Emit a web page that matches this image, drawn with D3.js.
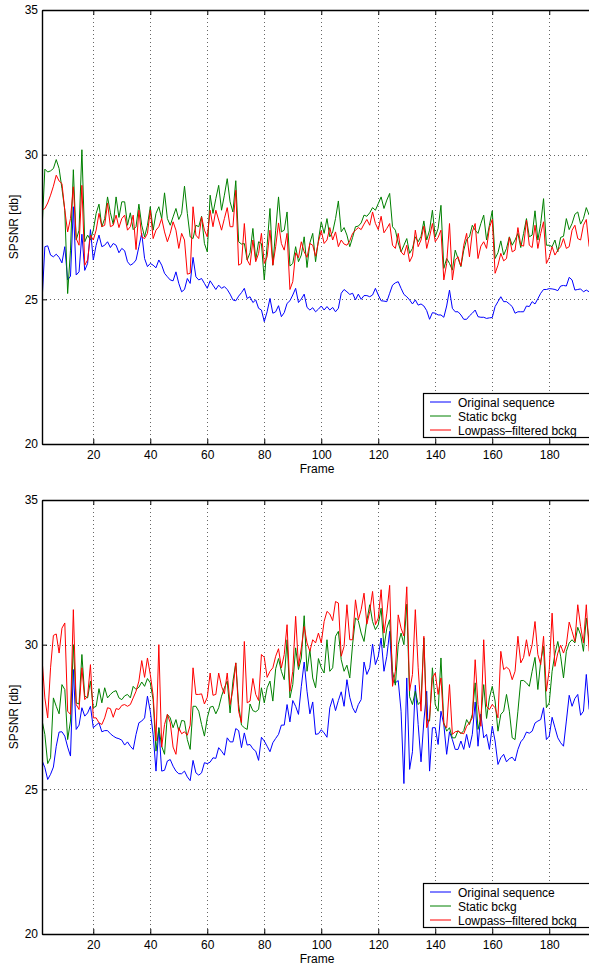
<!DOCTYPE html>
<html>
<head>
<meta charset="utf-8">
<script src="https://cdn.jsdelivr.net/npm/d3@7"></script>
<style>
  body { margin: 0; background: #fff; }
  text { font-family: "Liberation Sans", Arial, sans-serif; fill: #000; }
</style>
</head>
<body>
<div id="vis"></div>
<script>
// frames 2..194
const frames = d3.range(2, 195);
const seriesNames = ["Original sequence", "Static bckg", "Lowpass\u2013filtered bckg"];
const seriesColors = ["#0000ff", "#008000", "#ff0000"];
const xTicks = [20, 40, 60, 80, 100, 120, 140, 160, 180];
const yTicks = [20, 25, 30, 35];

// upper plot
const topOriginal = [
  24.9, 26.82, 26.85, 26.53, 26.47, 26.56, 26.45, 26.26, 26.82, 25.67,
  25.8, 28.2, 25.84, 25.95, 27.25, 26.0, 26.24, 27.41, 26.36, 26.87,
  27.22, 26.82, 26.87, 26.99, 26.79, 26.93, 26.87, 26.61, 26.76, 26.68,
  26.3, 26.18, 26.24, 26.36, 26.82, 27.28, 26.41, 26.13, 26.24, 26.18,
  26.09, 26.36, 26.18, 25.9, 25.78, 25.67, 25.64, 25.95, 25.55, 25.26,
  25.34, 25.72, 25.55, 26.45, 25.78, 25.67, 25.72, 25.55, 25.38, 25.64,
  25.49, 25.34, 25.49, 25.38, 25.44, 25.34, 25.18,
  24.98, 24.95, 25.11, 25.23, 25.38, 25.03, 25.09, 24.89, 24.98, 24.69,
  24.63, 24.23, 24.57, 25.03, 24.52, 24.57, 24.78, 24.4, 24.54, 24.86,
  24.95, 25.15, 25.38, 24.89, 25.01, 25.18, 24.72, 24.63, 24.71, 24.57,
  24.66, 24.77, 24.63, 24.75, 24.63, 24.72, 24.57, 24.69, 25.21, 25.34,
  25.26, 25.17, 25.21, 24.98, 25.18, 25.0, 25.13, 25.13, 25.09, 25.15,
  25.38, 25.15, 24.95, 24.94, 24.92, 25.21, 25.49, 25.57, 25.61, 25.38,
  25.17, 25.09, 24.98,
  24.84, 24.98, 24.8, 24.84, 24.77, 24.61, 24.31, 24.54, 24.52, 24.46,
  24.46, 24.38, 24.77, 25.32, 24.69, 24.57, 24.57, 24.46, 24.31, 24.31,
  24.43, 24.52, 24.63, 24.4, 24.38, 24.38, 24.34, 24.36, 24.37, 24.75,
  24.92, 25.09, 24.92, 24.92, 24.84, 24.75, 24.52, 24.57, 24.57, 24.57,
  24.77, 24.75, 24.92, 24.84, 25.02, 25.21, 25.34, 25.34, 25.37, 25.36,
  25.34, 25.3, 25.46, 25.48, 25.46, 25.76, 25.67, 25.32, 25.34, 25.36,
  25.26, 25.32, 25.26
];
const topStatic = [
  27.4, 29.5, 29.4, 29.44, 29.52, 29.83, 29.52, 28.83, 28.08, 25.2,
  26.7, 29.48, 27.05, 27.39, 30.17, 26.99, 27.22, 27.05, 27.39, 27.97,
  28.29, 27.51, 27.79, 28.54, 27.99, 27.59, 28.54, 27.83, 28.37, 28.37,
  27.56, 27.99, 27.41, 27.51, 28.29, 27.56, 27.16, 27.56, 28.2, 27.39,
  27.97, 28.2, 27.79, 28.68, 27.79, 27.56, 27.85, 28.14, 27.76, 27.97,
  28.91, 27.97, 27.16, 27.1, 27.56, 27.51, 27.87, 26.93, 26.64, 28.6,
  27.97, 28.48, 28.94, 28.08, 28.6, 29.17, 28.37,
  28.02, 29.1, 26.99, 26.91, 26.93, 26.36, 26.61, 27.45, 26.36, 26.99,
  26.93, 25.67, 26.87, 28.14, 26.18, 27.39, 28.54, 27.33, 27.39, 28.02,
  26.15, 26.24, 26.82, 26.3, 26.53, 27.16, 26.1, 26.95, 27.28, 26.3,
  27.05, 27.68, 27.28, 27.79, 27.16, 27.33, 27.79, 28.4, 27.33, 27.48,
  27.22, 26.82, 27.14, 27.51, 27.53, 27.64, 27.91, 27.87, 27.99, 28.17,
  28.08, 28.31, 28.54, 28.14, 28.43, 28.66, 27.51, 27.39, 26.95, 26.64,
  26.87, 27.1, 26.59,
  26.76, 27.16, 26.99, 27.18, 27.71, 27.05, 27.39, 28.08, 27.16, 27.45,
  28.25, 26.07, 26.41, 26.24, 26.01, 26.7, 26.41, 26.13, 26.7, 27.07,
  27.16, 27.56, 27.39, 27.28, 27.62, 27.91, 27.05, 27.56, 28.06, 26.41,
  26.61, 27.02, 26.53, 26.76, 27.16, 26.87, 27.05, 27.28, 26.79, 27.28,
  27.79, 27.16, 27.22, 28.06, 27.05, 27.62, 28.48, 26.87, 26.87, 26.82,
  27.05, 26.64, 27.14, 27.18, 27.79, 27.41, 27.62, 27.94, 28.02, 27.6,
  27.79, 28.17, 27.91
];
const topLowpass = [
  28.08, 28.14, 28.33, 28.6, 28.91, 29.29, 29.09, 29.0, 28.08, 27.33,
  27.79, 28.89, 27.1, 26.87, 28.94, 26.18, 26.36, 27.22, 27.05, 27.39,
  27.97, 27.51, 27.56, 28.33, 27.51, 27.56, 27.91, 27.48, 27.79, 27.91,
  27.39, 27.51, 27.91, 26.72, 28.08, 27.16, 27.1, 27.28, 28.08, 27.1,
  27.39, 27.51, 27.79, 27.33, 26.99, 27.28, 27.68, 27.39, 26.76, 27.28,
  27.05, 25.87, 25.9, 28.2, 27.22, 27.1, 27.85, 27.39, 27.16, 28.08,
  27.51, 28.08, 27.74, 27.39, 27.79, 28.17, 27.51,
  27.51, 28.77, 26.18, 26.24, 27.62, 26.36, 26.18, 27.05, 26.3, 26.59,
  27.28, 26.24, 26.47, 27.39, 26.18, 26.82, 27.64, 26.93, 26.7, 27.28,
  25.34, 25.61, 26.61, 26.44, 26.99, 26.64, 26.45, 26.93, 26.87, 26.49,
  26.99, 27.37, 26.93, 27.05, 27.48, 27.05, 27.33, 26.82, 27.05, 26.91,
  26.87, 27.02, 27.28, 27.39, 27.48, 27.41, 27.6, 27.76, 27.56, 28.02,
  27.62, 27.41, 27.87, 27.3, 27.45, 27.62, 26.87, 26.76, 27.28, 26.64,
  26.53, 26.87, 26.3,
  26.5, 27.39, 26.82, 27.05, 27.53, 26.76, 27.16, 27.62, 26.99, 27.14,
  27.39, 25.67, 26.24, 27.62, 25.67, 26.36, 26.47, 26.15, 26.87, 27.28,
  26.47, 27.33, 27.62, 26.41, 26.84, 26.99, 26.76, 27.48, 27.76, 25.9,
  26.18, 26.59, 26.33, 26.41, 27.14, 26.64, 26.7, 27.48, 26.87, 26.84,
  27.74, 26.87, 26.79, 27.56, 26.76, 27.28, 27.68, 26.24, 26.45, 26.82,
  26.53, 26.7, 26.82, 27.1, 26.76, 26.82, 27.39, 27.56, 27.1, 27.05,
  27.56, 27.76, 26.82
];

// lower plot
const bottomOriginal = [
  26.0, 25.75, 25.34, 25.52, 25.77, 26.49, 26.98, 26.99, 26.84, 26.46,
  26.15, 29.14, 27.07, 27.22, 27.82, 27.53, 27.64, 27.87, 27.13, 27.22,
  27.3, 26.99, 27.03, 27.03, 26.92, 26.84, 26.78, 26.75, 26.7, 26.53,
  26.64, 26.49, 26.38, 26.9, 27.3, 27.36, 27.47, 28.22, 27.7, 26.9,
  25.63, 27.13, 25.63, 25.66, 25.98, 26.03, 25.8, 25.63, 25.54, 25.54,
  25.63, 25.43, 25.3, 26.0, 25.57, 25.49, 25.57, 25.92, 25.89, 25.94,
  26.09, 26.07, 26.44, 26.32, 26.18, 26.78, 26.64,
  26.64, 27.1, 27.03, 26.44, 26.95, 26.53, 26.55, 26.4, 26.32, 26.0,
  26.8, 26.67, 26.49, 26.3, 26.61, 26.76, 26.9, 27.22, 27.22, 27.93,
  27.33, 28.07, 27.87, 27.59, 28.56, 29.4, 28.39, 27.61, 28.02, 26.9,
  26.92, 27.06, 26.95, 26.8, 27.82, 28.14, 27.72, 28.07, 28.37, 27.87,
  28.79, 28.18, 27.82, 27.64, 27.93, 28.1, 29.4, 28.97, 29.2, 30.02,
  29.31, 29.6, 30.23, 29.08, 29.6, 30.46, 28.74, 28.68, 28.76, 27.7,
  25.2, 28.85, 25.69,
  26.3, 28.6, 27.24, 25.95, 27.36, 28.39, 25.63, 27.13, 27.13, 26.55,
  27.7, 27.24, 26.21, 26.99, 26.72, 26.38, 26.38, 26.67, 26.38, 26.9,
  26.44, 26.9, 28.02, 26.49, 27.6, 26.78, 26.9, 26.38, 27.18, 26.67,
  25.86, 26.09, 26.21, 25.95, 26.06, 26.11, 25.98, 26.38, 26.64, 26.76,
  26.98, 26.94, 27.01, 27.29, 27.36, 27.41, 27.82, 26.72, 26.84, 27.49,
  27.13, 26.78, 26.61, 26.49, 27.36, 28.25, 27.87, 28.14, 28.28, 27.56,
  27.7, 28.97, 27.76
];
const bottomStatic = [
  27.39, 26.9, 25.89, 26.09, 28.16, 27.87, 27.61, 28.62, 28.45, 26.72,
  27.36, 30.0, 27.99, 27.95, 29.66, 28.22, 28.16, 28.74, 27.82, 27.87,
  28.48, 27.99, 28.51, 28.16, 28.28, 28.37, 28.41, 28.16, 28.1, 28.23,
  28.28, 28.16, 28.56, 28.45, 28.53, 28.71, 28.56, 28.83, 28.68, 28.1,
  26.32, 27.13, 26.49, 26.21, 27.59, 27.47, 27.13, 27.41, 27.01, 27.38,
  27.36, 26.72, 26.38, 27.87, 27.87, 27.7, 27.24, 26.84, 27.47, 27.84,
  27.87, 27.61, 27.82, 28.22, 28.51, 28.74, 27.64,
  28.74, 29.37, 27.93, 27.22, 27.13, 27.07, 27.95, 27.72, 27.68, 27.76,
  28.51, 27.99, 28.51, 28.74, 28.05, 29.17, 29.52, 29.08, 28.79, 30.17,
  28.16, 28.62, 29.89, 29.14, 29.54, 31.0, 29.08, 29.83, 28.85, 28.51,
  29.52, 29.2, 29.02, 30.17, 29.08, 29.2, 30.29, 30.46, 29.48, 29.08,
  29.29, 28.85, 30.02, 30.92, 30.83, 30.4, 30.11, 30.83, 31.38, 30.8,
  30.52, 30.69, 31.26, 29.89, 30.57, 30.86, 29.08, 28.6, 30.0, 30.4,
  30.0, 31.4, 28.2,
  27.93, 28.39, 27.93, 28.05, 30.23, 27.41, 27.36, 29.2, 27.93, 27.7,
  29.54, 27.3, 27.01, 27.13, 26.78, 26.78, 27.03, 26.92, 27.03, 27.41,
  27.24, 27.59, 28.68, 27.07, 27.47, 28.62, 27.45, 28.16, 28.56, 28.05,
  27.01, 27.59, 27.7, 28.28, 27.7, 26.78, 26.72, 27.7, 28.76, 28.76,
  28.68, 28.56, 29.08, 29.56, 28.45, 29.43, 29.94, 27.82, 27.99, 29.08,
  29.68, 30.11, 29.6, 28.85, 29.77, 30.06, 30.17, 30.06, 30.6, 30.34,
  29.77, 30.92, 30.11
];
const bottomLowpass = [
  29.52, 28.16, 27.47, 29.2, 30.32, 30.37, 29.71, 30.57, 30.75, 27.7,
  27.59, 31.21, 27.93, 27.76, 29.2, 28.1, 28.22, 29.31, 27.47, 27.47,
  27.3, 27.24, 27.47, 27.82, 27.79, 27.49, 27.79, 27.76, 27.9, 27.93,
  27.87, 27.93, 28.16, 28.39, 28.74, 29.45, 28.87, 29.54, 28.97, 28.25,
  26.67, 30.0, 26.46, 27.24, 27.59, 27.3, 26.46, 26.21, 27.13, 26.92,
  26.99, 26.87, 27.22, 29.2, 28.28, 28.28, 28.3, 27.95, 28.18, 29.02,
  28.25, 28.28, 29.02, 28.56, 28.3, 29.02, 27.93,
  28.45, 29.37, 27.7, 27.3, 30.11, 27.99, 28.05, 28.83, 28.28, 28.07,
  29.66, 29.56, 28.87, 29.08, 29.2, 29.6, 29.86, 29.2, 29.66, 30.69,
  28.39, 29.08, 30.98, 29.25, 29.89, 30.63, 30.06, 29.77, 30.17, 30.06,
  30.4, 30.06, 30.8, 31.15, 31.06, 30.83, 31.49, 31.44, 29.6, 29.94,
  31.38, 30.17, 30.17, 31.55, 30.86, 31.21, 31.78, 30.71, 31.15, 31.84,
  30.69, 30.92, 31.9, 30.4, 31.09, 32.05, 28.56, 29.08, 31.03, 30.57,
  30.3, 32.0, 28.4,
  28.97, 31.21, 29.2, 27.7, 30.29, 27.13, 27.47, 28.85, 29.02, 28.28,
  28.85, 27.24, 27.13, 28.62, 26.9, 26.99, 27.01, 26.95, 26.92, 27.18,
  27.3, 27.47, 29.48, 27.93, 27.18, 30.17, 27.87, 27.76, 27.93, 27.82,
  27.47, 29.77, 29.14, 29.22, 29.14, 28.79, 29.08, 30.29, 29.37, 29.56,
  30.17, 29.6, 30.0, 30.8, 29.66, 29.31, 30.29, 28.39, 29.14, 31.09,
  29.25, 29.71, 29.98, 29.71, 30.0, 30.78, 30.46, 30.11, 31.38, 30.63,
  30.06, 31.38, 29.77
];

const width = 589;
const height = 965;
const fontSize = "12px";

const svg = d3.select("#vis")
  .append("svg")
  .attr("width", width)
  .attr("height", height)
  .style("background", "#fff");

const x = d3.scaleLinear().domain([2, 195]).range([42, 592]);

function drawPanel(top, bottom, series, id) {
  const y = d3.scaleLinear().domain([20, 35]).range([bottom, top]);
  const left = x.range()[0];
  const right = x.range()[1];

  const g = svg.append("g");

  g.append("clipPath")
    .attr("id", "clip" + id)
    .append("rect")
    .attr("x", left)
    .attr("y", top)
    .attr("width", right - left)
    .attr("height", bottom - top);

  // dotted grid
  g.selectAll("line.vgrid")
    .data(xTicks)
    .enter()
    .append("line")
    .attr("class", "vgrid")
    .attr("x1", (d) => Math.round(x(d)) + 0.5)
    .attr("x2", (d) => Math.round(x(d)) + 0.5)
    .attr("y1", top)
    .attr("y2", bottom)
    .attr("stroke", "#666")
    .attr("stroke-dasharray", "1,3");

  g.selectAll("line.hgrid")
    .data(yTicks.slice(1, -1))
    .enter()
    .append("line")
    .attr("class", "hgrid")
    .attr("x1", left)
    .attr("x2", right)
    .attr("y1", (d) => Math.round(y(d)) + 0.5)
    .attr("y2", (d) => Math.round(y(d)) + 0.5)
    .attr("stroke", "#666")
    .attr("stroke-dasharray", "1,3");

  // data lines
  const line = d3.line()
    .x((_d, i) => x(frames[i]))
    .y((d) => y(d));

  series.forEach((values, k) => {
    g.append("path")
      .datum(values)
      .attr("clip-path", "url(#clip" + id + ")")
      .attr("d", line)
      .attr("fill", "none")
      .attr("stroke", seriesColors[k])
      .attr("stroke-width", 1)
      .attr("stroke-linejoin", "round");
  });

  // axes, ticks pointing inwards like matlab
  const xAxisB = d3.axisBottom(x).tickValues(xTicks).tickSizeInner(-5).tickSizeOuter(0).tickPadding(6.5);
  const xAxisT = d3.axisTop(x).tickValues(xTicks).tickSizeInner(-5).tickSizeOuter(0).tickFormat("");
  const yAxisL = d3.axisLeft(y).tickValues(yTicks).tickSizeInner(-5).tickSizeOuter(0).tickPadding(4);

  g.append("g")
    .attr("transform", `translate(0,${bottom})`)
    .call(xAxisB);
  g.append("g")
    .attr("transform", `translate(0,${top})`)
    .call(xAxisT);
  g.append("g")
    .attr("transform", `translate(${left},0)`)
    .call(yAxisL);

  g.selectAll(".domain").attr("stroke", "#000").attr("stroke-width", 1.4);
  g.selectAll(".tick line").attr("stroke", "#000");
  g.selectAll(".tick text")
    .style("font-family", '"Liberation Sans", Arial, sans-serif')
    .style("font-size", fontSize)
    .attr("fill", "#000");

  // axis titles
  g.append("text")
    .attr("x", (left + right) / 2)
    .attr("y", bottom + 29)
    .attr("text-anchor", "middle")
    .style("font-size", fontSize)
    .text("Frame");

  g.append("text")
    .attr("transform", `translate(18,${(top + bottom) / 2}) rotate(-90)`)
    .attr("text-anchor", "middle")
    .style("font-size", fontSize)
    .text("SPSNR [db]");

  // legend
  const lx = 423;
  const ly = bottom - 51;
  g.append("rect")
    .attr("x", lx + 0.5)
    .attr("y", ly + 0.5)
    .attr("width", 168)
    .attr("height", 44)
    .attr("fill", "#fff")
    .attr("stroke", "#000")
    .attr("stroke-width", 1.2);

  const legend = g.selectAll("g.legend")
    .data(seriesNames)
    .enter()
    .append("g")
    .attr("class", "legend")
    .attr("transform", (_d, i) => `translate(${lx},${ly + 9 + i * 14})`);

  legend.append("line")
    .attr("x1", 7)
    .attr("x2", 28)
    .attr("y1", 0)
    .attr("y2", 0)
    .attr("stroke", (_d, i) => seriesColors[i])
    .attr("stroke-width", 1);

  legend.append("text")
    .attr("x", 35)
    .attr("y", 4.5)
    .style("font-size", fontSize)
    .text((d) => d);
}

drawPanel(10, 444, [topOriginal, topStatic, topLowpass], 1);
drawPanel(500, 934, [bottomOriginal, bottomStatic, bottomLowpass], 2);
</script>
</body>
</html>
